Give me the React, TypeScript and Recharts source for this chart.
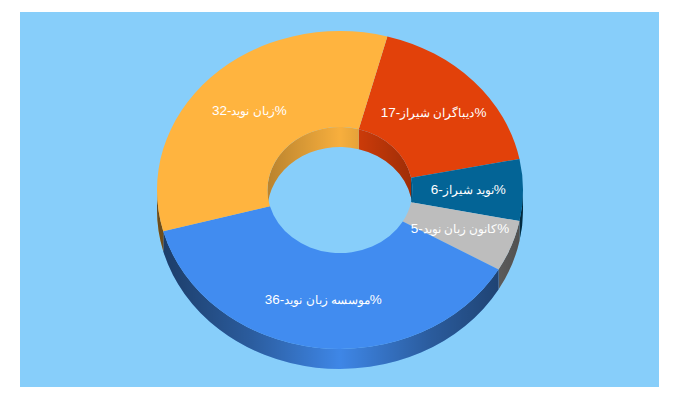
import { Pie, PieChart } from "recharts";

const categories = ["دیباگران شیراز", "نوید شیراز", "کانون زبان نوید", "موسسه زبان نوید", "زبان نوید"];
const shares = [17, 6, 5, 36, 32];
const colors = ["#E2410A", "#036496", "#BDBDBD", "#418CF0", "#FFB43F"];

const chartData = categories.map((name, i) => ({ name, value: shares[i], fill: colors[i] }));

// the pie is squashed to an ellipse and given some thickness
const SQUASH = 159 / 183;
const DEPTH = 20;
const RAD = Math.PI / 180;

function point(cx: number, cy: number, r: number, angle: number, dy = 0) {
    const x = cx + r * Math.cos(angle * RAD);
    const y = cy - r * SQUASH * Math.sin(angle * RAD) + dy;
    return `${x.toFixed(2)} ${y.toFixed(2)}`;
}

// clockwise arc on the ellipse, from angle a down to angle b
function arc(cx: number, cy: number, r: number, a: number, b: number, sweep: number, dy = 0) {
    const large = Math.abs(a - b) > 180 ? 1 : 0;
    return `A ${r} ${r * SQUASH} 0 ${large} ${sweep} ${point(cx, cy, r, b, dy)}`;
}

function wallPath(cx: number, cy: number, r: number, from: number, to: number) {
    return [
        `M ${point(cx, cy, r, from)}`,
        arc(cx, cy, r, from, to, 1),
        `L ${point(cx, cy, r, to, DEPTH)}`,
        arc(cx, cy, r, to, from, 0, DEPTH),
        "Z",
    ].join(" ");
}

function SideShape(props: any) {
    const { cx, cy, innerRadius, outerRadius, startAngle, endAngle, fill } = props;
    // outer wall only shows on the front half
    const frontFrom = Math.min(startAngle, 0);
    const frontTo = Math.max(endAngle, -180);
    // hole wall only shows on the back half
    const backFrom = startAngle > 0 ? startAngle : Math.min(startAngle, -180);
    const backTo = startAngle > 0 ? Math.max(endAngle, 0) : endAngle;
    return (
        <g>
            {backFrom > backTo && (
                <>
                    <path d={wallPath(cx, cy, innerRadius, backFrom, backTo)} fill={fill} />
                    <path d={wallPath(cx, cy, innerRadius, backFrom, backTo)} fill="url(#holeShade)" />
                </>
            )}
            {frontFrom > frontTo && (
                <>
                    <path d={wallPath(cx, cy, outerRadius, frontFrom, frontTo)} fill={fill} />
                    <path d={wallPath(cx, cy, outerRadius, frontFrom, frontTo)} fill="url(#rimShade)" />
                </>
            )}
        </g>
    );
}

function TopShape(props: any) {
    const { cx, cy, innerRadius, outerRadius, startAngle, endAngle, fill } = props;
    const d = [
        `M ${point(cx, cy, outerRadius, startAngle)}`,
        arc(cx, cy, outerRadius, startAngle, endAngle, 1),
        `L ${point(cx, cy, innerRadius, endAngle)}`,
        arc(cx, cy, innerRadius, endAngle, startAngle, 0),
        "Z",
    ].join(" ");
    return <path d={d} fill={fill} />;
}

function SliceLabel(props: any) {
    const { cx, cy, innerRadius, outerRadius, midAngle, name, value } = props;
    const r = (innerRadius + outerRadius) / 2 + 0.5;
    const x = cx + r * Math.cos(midAngle * RAD);
    const y = cy - r * SQUASH * Math.sin(midAngle * RAD);
    // Arabic falls back to DejaVu, which runs wide, so it gets a smaller size than the digits
    return (
        <text x={x} y={y} dy={3.5} textAnchor="middle" fill="#fff" fontSize={13.5} fontFamily="Liberation Sans">
            {`${value}-`}
            <tspan fontSize={11.5}>{name}</tspan>
            %
        </text>
    );
}

export default function App() {
    return (
        <div style={{ position: "absolute", left: 20, top: 12, width: 639, height: 375, background: "#87CEFA" }}>
            <PieChart width={639} height={375} margin={{ top: 0, right: 0, bottom: 0, left: 0 }}>
                <defs>
                    <linearGradient id="rimShade" gradientUnits="userSpaceOnUse" x1={137} y1={0} x2={503} y2={0}>
                        <stop offset="0" stopColor="#000" stopOpacity={0.58} />
                        <stop offset="0.25" stopColor="#000" stopOpacity={0.35} />
                        <stop offset="0.5" stopColor="#000" stopOpacity={0.04} />
                        <stop offset="0.75" stopColor="#000" stopOpacity={0.35} />
                        <stop offset="1" stopColor="#000" stopOpacity={0.58} />
                    </linearGradient>
                    <linearGradient id="holeShade" gradientUnits="userSpaceOnUse" x1={248} y1={0} x2={392} y2={0}>
                        <stop offset="0" stopColor="#000" stopOpacity={0.27} />
                        <stop offset="0.5" stopColor="#000" stopOpacity={0.03} />
                        <stop offset="1" stopColor="#000" stopOpacity={0.3} />
                    </linearGradient>
                </defs>
                <Pie
                    data={chartData}
                    dataKey="value"
                    cx={320}
                    cy={178}
                    innerRadius={72.5}
                    outerRadius={183}
                    startAngle={75}
                    endAngle={-285}
                    stroke="none"
                    shape={SideShape}
                    isAnimationActive={false}
                />
                <Pie
                    data={chartData}
                    dataKey="value"
                    cx={320}
                    cy={178}
                    innerRadius={72.5}
                    outerRadius={183}
                    startAngle={75}
                    endAngle={-285}
                    stroke="none"
                    shape={TopShape}
                    label={SliceLabel}
                    labelLine={false}
                    isAnimationActive={false}
                />
            </PieChart>
        </div>
    );
}
